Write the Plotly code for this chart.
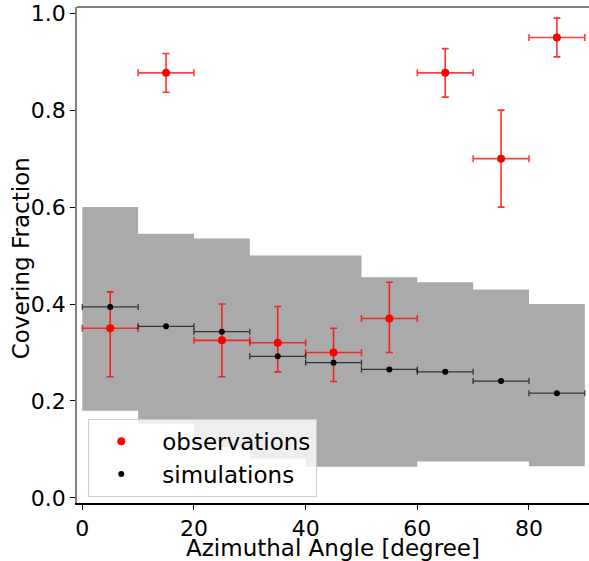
import plotly.graph_objects as go

# ---- data ----
angle_centers = [5, 15, 25, 35, 45, 55, 65, 75, 85]
angle_halfwidth = [5, 5, 5, 5, 5, 5, 5, 5, 5]

obs_cf = [0.35, 0.877, 0.325, 0.32, 0.30, 0.37, 0.877, 0.70, 0.95]
obs_err_up = [0.075, 0.04, 0.075, 0.075, 0.05, 0.075, 0.05, 0.10, 0.04]
obs_err_down = [0.10, 0.04, 0.075, 0.06, 0.06, 0.07, 0.05, 0.10, 0.04]

sim_cf = [0.394, 0.354, 0.343, 0.292, 0.279, 0.265, 0.260, 0.241, 0.216]

band_edges = [0, 10, 20, 30, 40, 50, 60, 70, 80, 90]
band_top = [0.60, 0.545, 0.535, 0.50, 0.50, 0.455, 0.445, 0.43, 0.40]
band_bottom = [0.18, 0.153, 0.105, 0.081, 0.064, 0.064, 0.075, 0.075, 0.065]

x_ticks = [0, 20, 40, 60, 80]
y_ticks = [0.0, 0.2, 0.4, 0.6, 0.8, 1.0]

# ---- build step polygon for the simulation spread ----
poly_x, poly_y = [], []
for i, t in enumerate(band_top):
    poly_x += [band_edges[i], band_edges[i + 1]]
    poly_y += [t, t]
for i in range(len(band_bottom) - 1, -1, -1):
    poly_x += [band_edges[i + 1], band_edges[i]]
    poly_y += [band_bottom[i], band_bottom[i]]

FONT = "DejaVu Sans"

fig = go.Figure()

fig.add_trace(go.Scatter(
    x=poly_x, y=poly_y, fill="toself", mode="lines",
    fillcolor="#aaaaaa", line=dict(width=0, color="#aaaaaa"),
    showlegend=False, hoverinfo="skip",
))

fig.add_trace(go.Scatter(
    x=angle_centers, y=obs_cf, mode="markers", name="observations",
    marker=dict(color="red", size=8),
    error_x=dict(type="data", array=angle_halfwidth, color="rgba(255,0,0,0.75)",
                 thickness=1.6, width=3.5),
    error_y=dict(type="data", symmetric=False, array=obs_err_up,
                 arrayminus=obs_err_down, color="rgba(255,0,0,0.8)",
                 thickness=1.6, width=3.5),
))

fig.add_trace(go.Scatter(
    x=angle_centers, y=sim_cf, mode="markers", name="simulations",
    marker=dict(color="black", size=6),
    error_x=dict(type="data", array=angle_halfwidth, color="rgba(0,0,0,0.7)",
                 thickness=1.3, width=3),
))

fig.add_shape(type="line", xref="paper", yref="paper", x0=0, x1=1, y0=1, y1=1,
              line=dict(color="#808080", width=2))

fig.add_annotation(
    text="Covering Fraction", xref="paper", yref="paper",
    x=-0.1094, y=0.4934, xanchor="center", yanchor="middle",
    textangle=-90, showarrow=False,
    font=dict(family=FONT, size=23, color="black"),
)

fig.update_layout(
    width=589, height=561,
    margin=dict(l=77, r=0, t=7, b=54),
    plot_bgcolor="white", paper_bgcolor="white",
    font=dict(family=FONT, size=22, color="black"),
    showlegend=True,
    legend=dict(
        x=0.022, y=0.17, xanchor="left", yanchor="top",
        bgcolor="rgba(255,255,255,0.8)", bordercolor="#cccccc", borderwidth=1,
        font=dict(family=FONT, size=23, color="black"),
        itemwidth=72, indentation=-9,
    ),
    xaxis=dict(
        range=[-0.95, 90.75], showgrid=False, zeroline=False,
        showline=True, linecolor="black", linewidth=1.5,
        ticks="outside", ticklen=5, tickwidth=1, tickcolor="black",
        tickvals=x_ticks, ticktext=[str(v) for v in x_ticks],
        tickfont=dict(family=FONT, size=22),
        title=dict(text="Azimuthal Angle [degree]", font=dict(family=FONT, size=23),
                   standoff=4),
    ),
    yaxis=dict(
        range=[-0.0106, 1.0129], showgrid=False, zeroline=False,
        showline=True, linecolor="#808080", linewidth=1.5,
        ticks="outside", ticklen=5, tickwidth=1, tickcolor="black",
        tickvals=y_ticks, ticktext=[f"{v:.1f}" for v in y_ticks],
        tickfont=dict(family=FONT, size=22),
    ),
)

fig.write_html("out.html",
               config={"displayModeBar": False},
               post_script="document.body.style.margin='0';document.body.style.padding='0';")
